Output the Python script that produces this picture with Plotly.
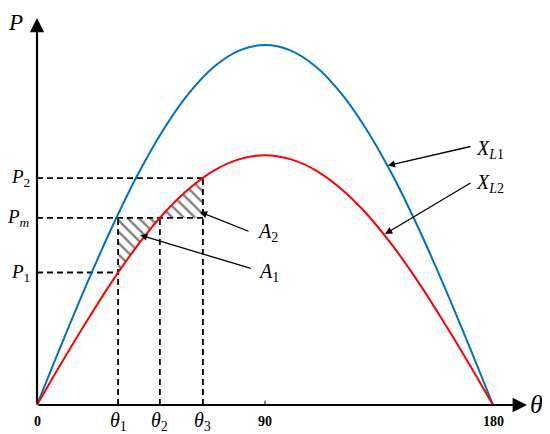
import plotly.graph_objects as go

# power-angle curves (P scaled so that the X_L1 peak = 1)
theta = [0, 10, 20, 30, 40, 50, 60, 70, 80, 90, 100, 110, 120, 130, 140, 150, 160, 170, 180]
p_xl1 = [0, 0.174, 0.342, 0.500, 0.643, 0.766, 0.866, 0.940, 0.985, 1.000,
         0.985, 0.940, 0.866, 0.766, 0.643, 0.500, 0.342, 0.174, 0]
p_xl2 = [0, 0.121, 0.237, 0.347, 0.446, 0.532, 0.601, 0.652, 0.683, 0.694,
         0.683, 0.652, 0.601, 0.532, 0.446, 0.347, 0.237, 0.121, 0]

# operating angles and power levels
theta_1, theta_2, theta_3 = 32, 48.5, 65.5
p_1, p_m, p_2 = 0.368, 0.52, 0.63

tick_vals = [0, 90, 180]
tick_text = ["0", "90", "180"]

BLUE = "rgb(0,112,192)"
RED = "rgb(255,0,0)"
SERIF = "Liberation Serif"

fig = go.Figure()

# --- hatched areas A1 and A2 ---
i40, i50, i60 = theta.index(40), theta.index(50), theta.index(60)
a1_x = [theta_1, theta[i40], theta_2, theta_1, theta_1]
a1_y = [p_1, p_xl2[i40], p_m, p_m, p_1]
a2_x = [theta_2, theta[i50], theta[i60], theta_3, theta_3, theta_2]
a2_y = [p_m, p_xl2[i50], p_xl2[i60], p_2, p_m, p_m]
hatch = dict(shape="\\", fgcolor="black", bgcolor="white", size=8, solidity=0.3)
for hx, hy in [(a1_x, a1_y), (a2_x, a2_y)]:
    fig.add_trace(go.Scatter(x=hx, y=hy, mode="lines", fill="toself",
                             fillcolor="white", fillpattern=hatch,
                             line=dict(width=0), hoverinfo="skip"))

# --- dashed guide lines ---
dash = dict(color="black", width=1.8, dash="6px,4px")
guides = [
    ([0, theta_3], [p_2, p_2]),
    ([0, theta_3], [p_m, p_m]),
    ([0, theta_1], [p_1, p_1]),
    ([theta_1, theta_1], [0, p_m]),
    ([theta_2, theta_2], [0, p_m]),
    ([theta_3, theta_3], [0, p_2]),
]
for gx, gy in guides:
    fig.add_trace(go.Scatter(x=gx, y=gy, mode="lines", line=dash, hoverinfo="skip"))

# --- curves ---
fig.add_trace(go.Scatter(x=theta, y=p_xl1, mode="lines", line=dict(color=BLUE, width=2, shape="spline")))
fig.add_trace(go.Scatter(x=theta, y=p_xl2, mode="lines", line=dict(color=RED, width=2, shape="spline")))

# small tick at 90
fig.add_trace(go.Scatter(x=[90, 90], y=[0, 0.012], mode="lines", line=dict(color="black", width=1)))

ann = []
# axes with arrows
ann.append(dict(x=193.4, y=0, ax=0, ay=0, xref="x", yref="y", axref="x", ayref="y",
                text="", showarrow=True, arrowhead=2, arrowsize=1.3, arrowwidth=2.2, arrowcolor="black"))
ann.append(dict(x=0, y=1.075, ax=0, ay=0, xref="x", yref="y", axref="x", ayref="y",
                text="", showarrow=True, arrowhead=2, arrowsize=1.3, arrowwidth=2.2, arrowcolor="black"))

# pointer arrows (tip, tail)
pointers = [
    ((138.5, 0.665), (171.7, 0.719)),
    ((137.4, 0.475), (171.7, 0.619)),
    ((40.7, 0.472), (85.0, 0.378)),
    ((64.3, 0.536), (84.1, 0.481)),
]
for (tx, ty), (sx, sy) in pointers:
    ann.append(dict(x=tx, y=ty, ax=sx, ay=sy, xref="x", yref="y", axref="x", ayref="y",
                    text="", showarrow=True, arrowhead=2, arrowsize=1.1, arrowwidth=1.3,
                    arrowcolor="black", standoff=0))

def label(x, y, text, size=20, xanchor="center"):
    ann.append(dict(x=x, y=y, xref="x", yref="y", text=text, showarrow=False,
                    xanchor=xanchor, yanchor="middle",
                    font=dict(family=SERIF, size=size, color="black")))

label(-8.5, 1.062, "<i>P</i>", 23)
label(197.0, 0.0, "<i>θ</i>", 26)
for v, t in zip(tick_vals, tick_text):
    label(v, -0.047, "<b>" + t + "</b>", 14)
label(theta_1, -0.047, "<i>θ</i><sub>1</sub>", 20)
label(theta_2, -0.047, "<i>θ</i><sub>2</sub>", 20)
label(theta_3, -0.047, "<i>θ</i><sub>3</sub>", 20)
label(-1.8, p_2, "<i>P</i><sub>2</sub>", 19, "right")
label(-1.8, p_m, "<i>P</i><sub><i>m</i></sub>", 19, "right")
label(-1.8, p_1, "<i>P</i><sub>1</sub>", 19, "right")
label(172.5, 0.71, "<i>X</i><sub><i>L</i>1</sub>", 20, "left")
label(172.5, 0.615, "<i>X</i><sub><i>L</i>2</sub>", 20, "left")
label(86.0, 0.478, "<i>A</i><sub>2</sub>", 20, "left")
label(86.3, 0.368, "<i>A</i><sub>1</sub>", 20, "left")

# the page puts the figure 8px in from the top-left corner, so it is sized to fit
# the window and the ranges place the origin where the reference has it
fig.update_layout(
    width=542, height=426, autosize=False,
    margin=dict(l=0, r=0, t=0, b=0),
    paper_bgcolor="white", plot_bgcolor="white",
    showlegend=False,
    xaxis=dict(visible=False, range=[-11.447, 202.5], fixedrange=True),
    yaxis=dict(visible=False, range=[-0.0806, 1.1028], fixedrange=True),
    annotations=ann,
)

fig.write_html("out.html")
